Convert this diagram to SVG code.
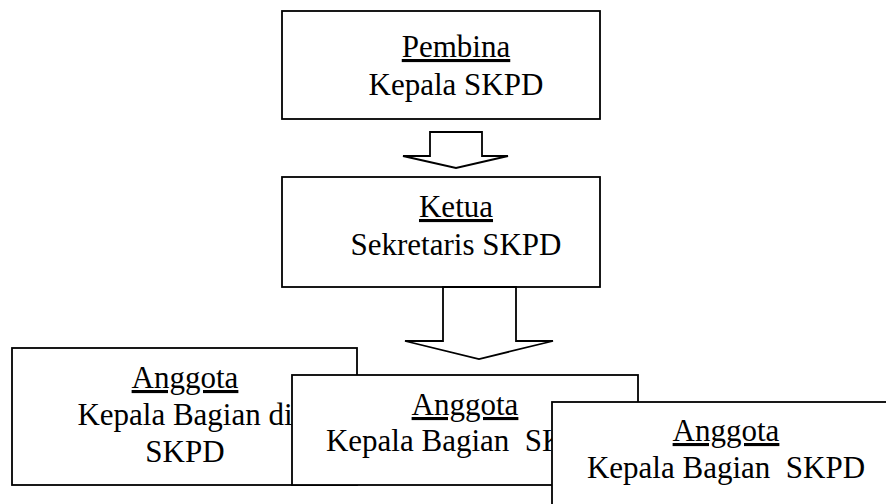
<svg xmlns="http://www.w3.org/2000/svg" width="886" height="504" viewBox="0 0 886 504">
<style>
.box{fill:#fff;stroke:#000;stroke-width:1.8}
.arr{fill:#fff;stroke:#000;stroke-width:1.8;stroke-linejoin:miter}
text{font-family:"Liberation Serif","Times New Roman",serif;font-size:31px;fill:#000;text-anchor:middle;white-space:pre}
.u{text-decoration:underline}
</style>
<rect width="886" height="504" fill="#fff"/>
<g id="pembina">
<rect class="box" x="282" y="11" width="318" height="108"/>
<text class="u" x="456" y="57">Pembina</text>
<text x="456" y="95">Kepala SKPD</text>
</g>
<g id="ketua">
<rect class="box" x="282" y="177" width="318" height="110"/>
<text class="u" x="456" y="217">Ketua</text>
<text x="456" y="255">Sekretaris SKPD</text>
</g>
<g id="connectors">
<polygon class="arr" points="430,132 482,132 482,156 508,156 456,168 403,156 430,156"/>
<polygon class="arr" points="443,287 516,287 516,341 553,341 479,359 405,341 443,341"/>
</g>
<g id="anggota1">
<rect class="box" x="12" y="348" width="345" height="137"/>
<text class="u" x="185" y="388">Anggota</text>
<text x="185" y="425">Kepala Bagian di</text>
<text x="185" y="462">SKPD</text>
</g>
<g id="anggota2">
<rect class="box" x="292" y="375" width="346" height="110"/>
<text class="u" x="465" y="415">Anggota</text>
<text x="465" y="451">Kepala Bagian  SKPD</text>
</g>
<g id="anggota3">
<rect class="box" x="552" y="402" width="348" height="120"/>
<text class="u" x="726" y="441">Anggota</text>
<text x="726" y="478">Kepala Bagian  SKPD</text>
</g>
</svg>
